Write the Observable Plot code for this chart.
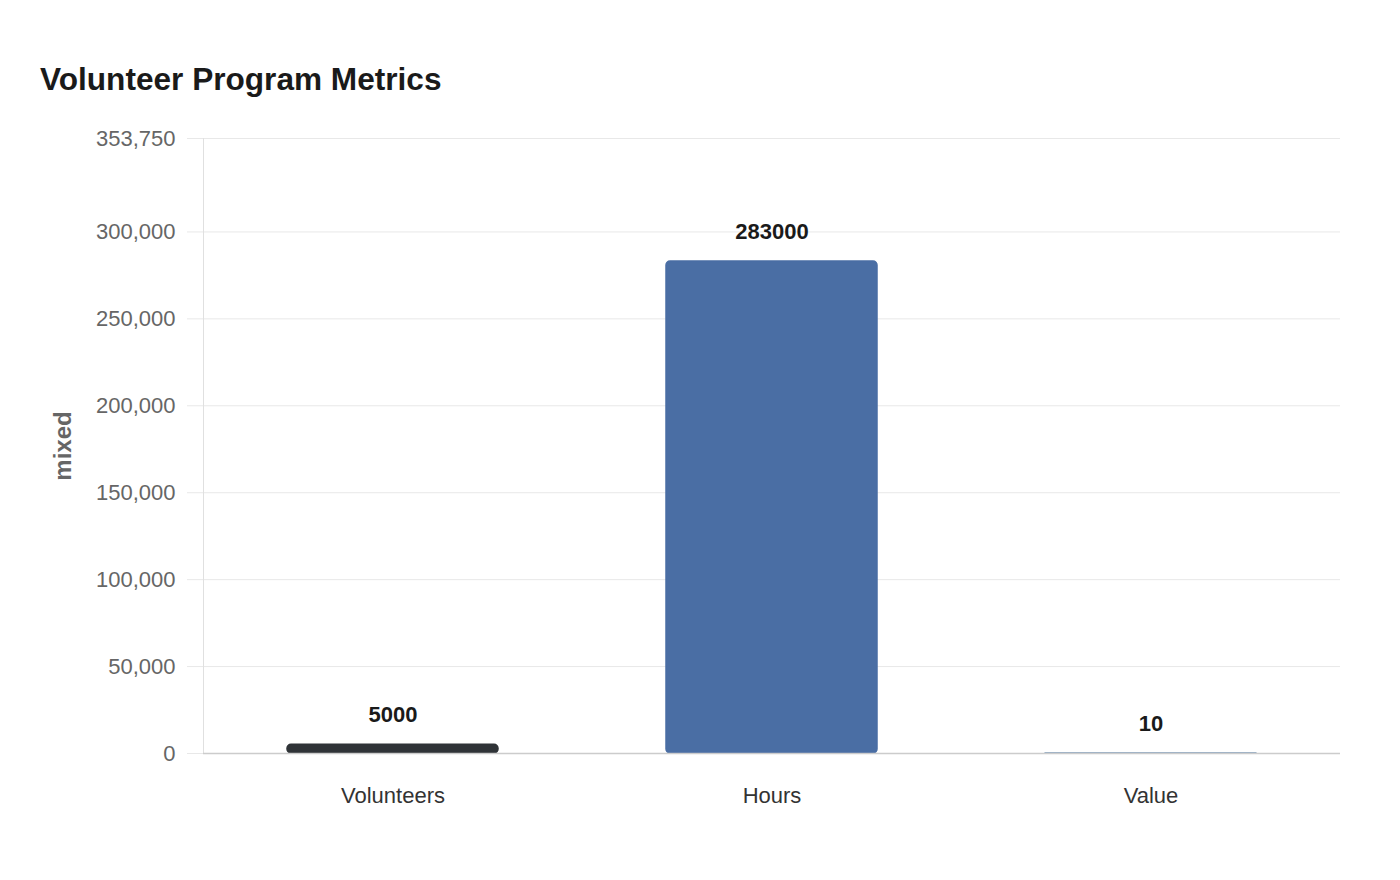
<!DOCTYPE html>
<html>
<head>
<meta charset="utf-8">
<script src="https://cdn.jsdelivr.net/npm/d3@7"></script>
<script src="https://cdn.jsdelivr.net/npm/@observablehq/plot@0.6"></script>
<style>
  html, body { margin: 0; padding: 0; background: #fff; }
  #wrap { position: relative; width: 1400px; height: 880px; font-family: "Liberation Sans", Arial, sans-serif; }
  #title { position: absolute; left: 40px; top: 60px; font-size: 31.6px; font-weight: bold; color: #1a1a1a; line-height: 38px; z-index: 2; }
  #chart { position: absolute; left: 0; top: 0; }
  g[aria-label="y-axis label"] text { font-weight: bold; fill: #666; font-size: 24px; }
</style>
</head>
<body>
<div id="wrap">
  <div id="title">Volunteer Program Metrics</div>
  <div id="chart"></div>
</div>
<script>
const categories = ["Volunteers", "Hours", "Value"];
const values = [5000, 283000, 10];
const barColors = ["#2f3337", "#4a6ea4", "#7391b1"];
const yTicks = [0, 50000, 100000, 150000, 200000, 250000, 300000, 353750];
const yMax = 353750;
const yLabel = "mixed";

const data = categories.map((c, i) => ({category: c, value: values[i], color: barColors[i]}));

const plot = Plot.plot({
  width: 1400,
  height: 880,
  marginTop: 138,
  marginBottom: 127,
  marginLeft: 203,
  marginRight: 60,
  style: {fontFamily: '"Liberation Sans", Arial, sans-serif', fontSize: "22px", background: "#fff"},
  x: {domain: categories, paddingInner: 0.443, paddingOuter: 0.2215, label: null},
  y: {domain: [0, yMax], label: null},
  marks: [
    Plot.gridY(yTicks, {stroke: "#e8e8e8", strokeOpacity: 1}),
    Plot.axisY(yTicks, {
      tickSize: 16, tickPadding: 12, stroke: "#e8e8e8", strokeOpacity: 1,
      fill: "#666", fontSize: 22, tickFormat: d3.format(","),
      label: yLabel, labelAnchor: "center", labelArrow: "none", labelOffset: 150
    }),
    Plot.axisX({tickSize: 0, tickPadding: 34, fill: "#333", fontSize: 22, label: null}),
    Plot.frame({anchor: "left", stroke: "#e0e0e0"}),
    Plot.barY(data, {x: "category", y: "value", fill: "color", stroke: "color", strokeWidth: 1.5, rx: 4}),
    Plot.ruleY([0], {stroke: "#cccccc", strokeWidth: 1.5}),
    Plot.text(data, {x: "category", y: "value", text: d => String(d.value), dy: -30,
      fontWeight: "bold", fontSize: 22, fill: "#1a1a1a"})
  ]
});
document.getElementById("chart").appendChild(plot);
</script>
</body>
</html>
